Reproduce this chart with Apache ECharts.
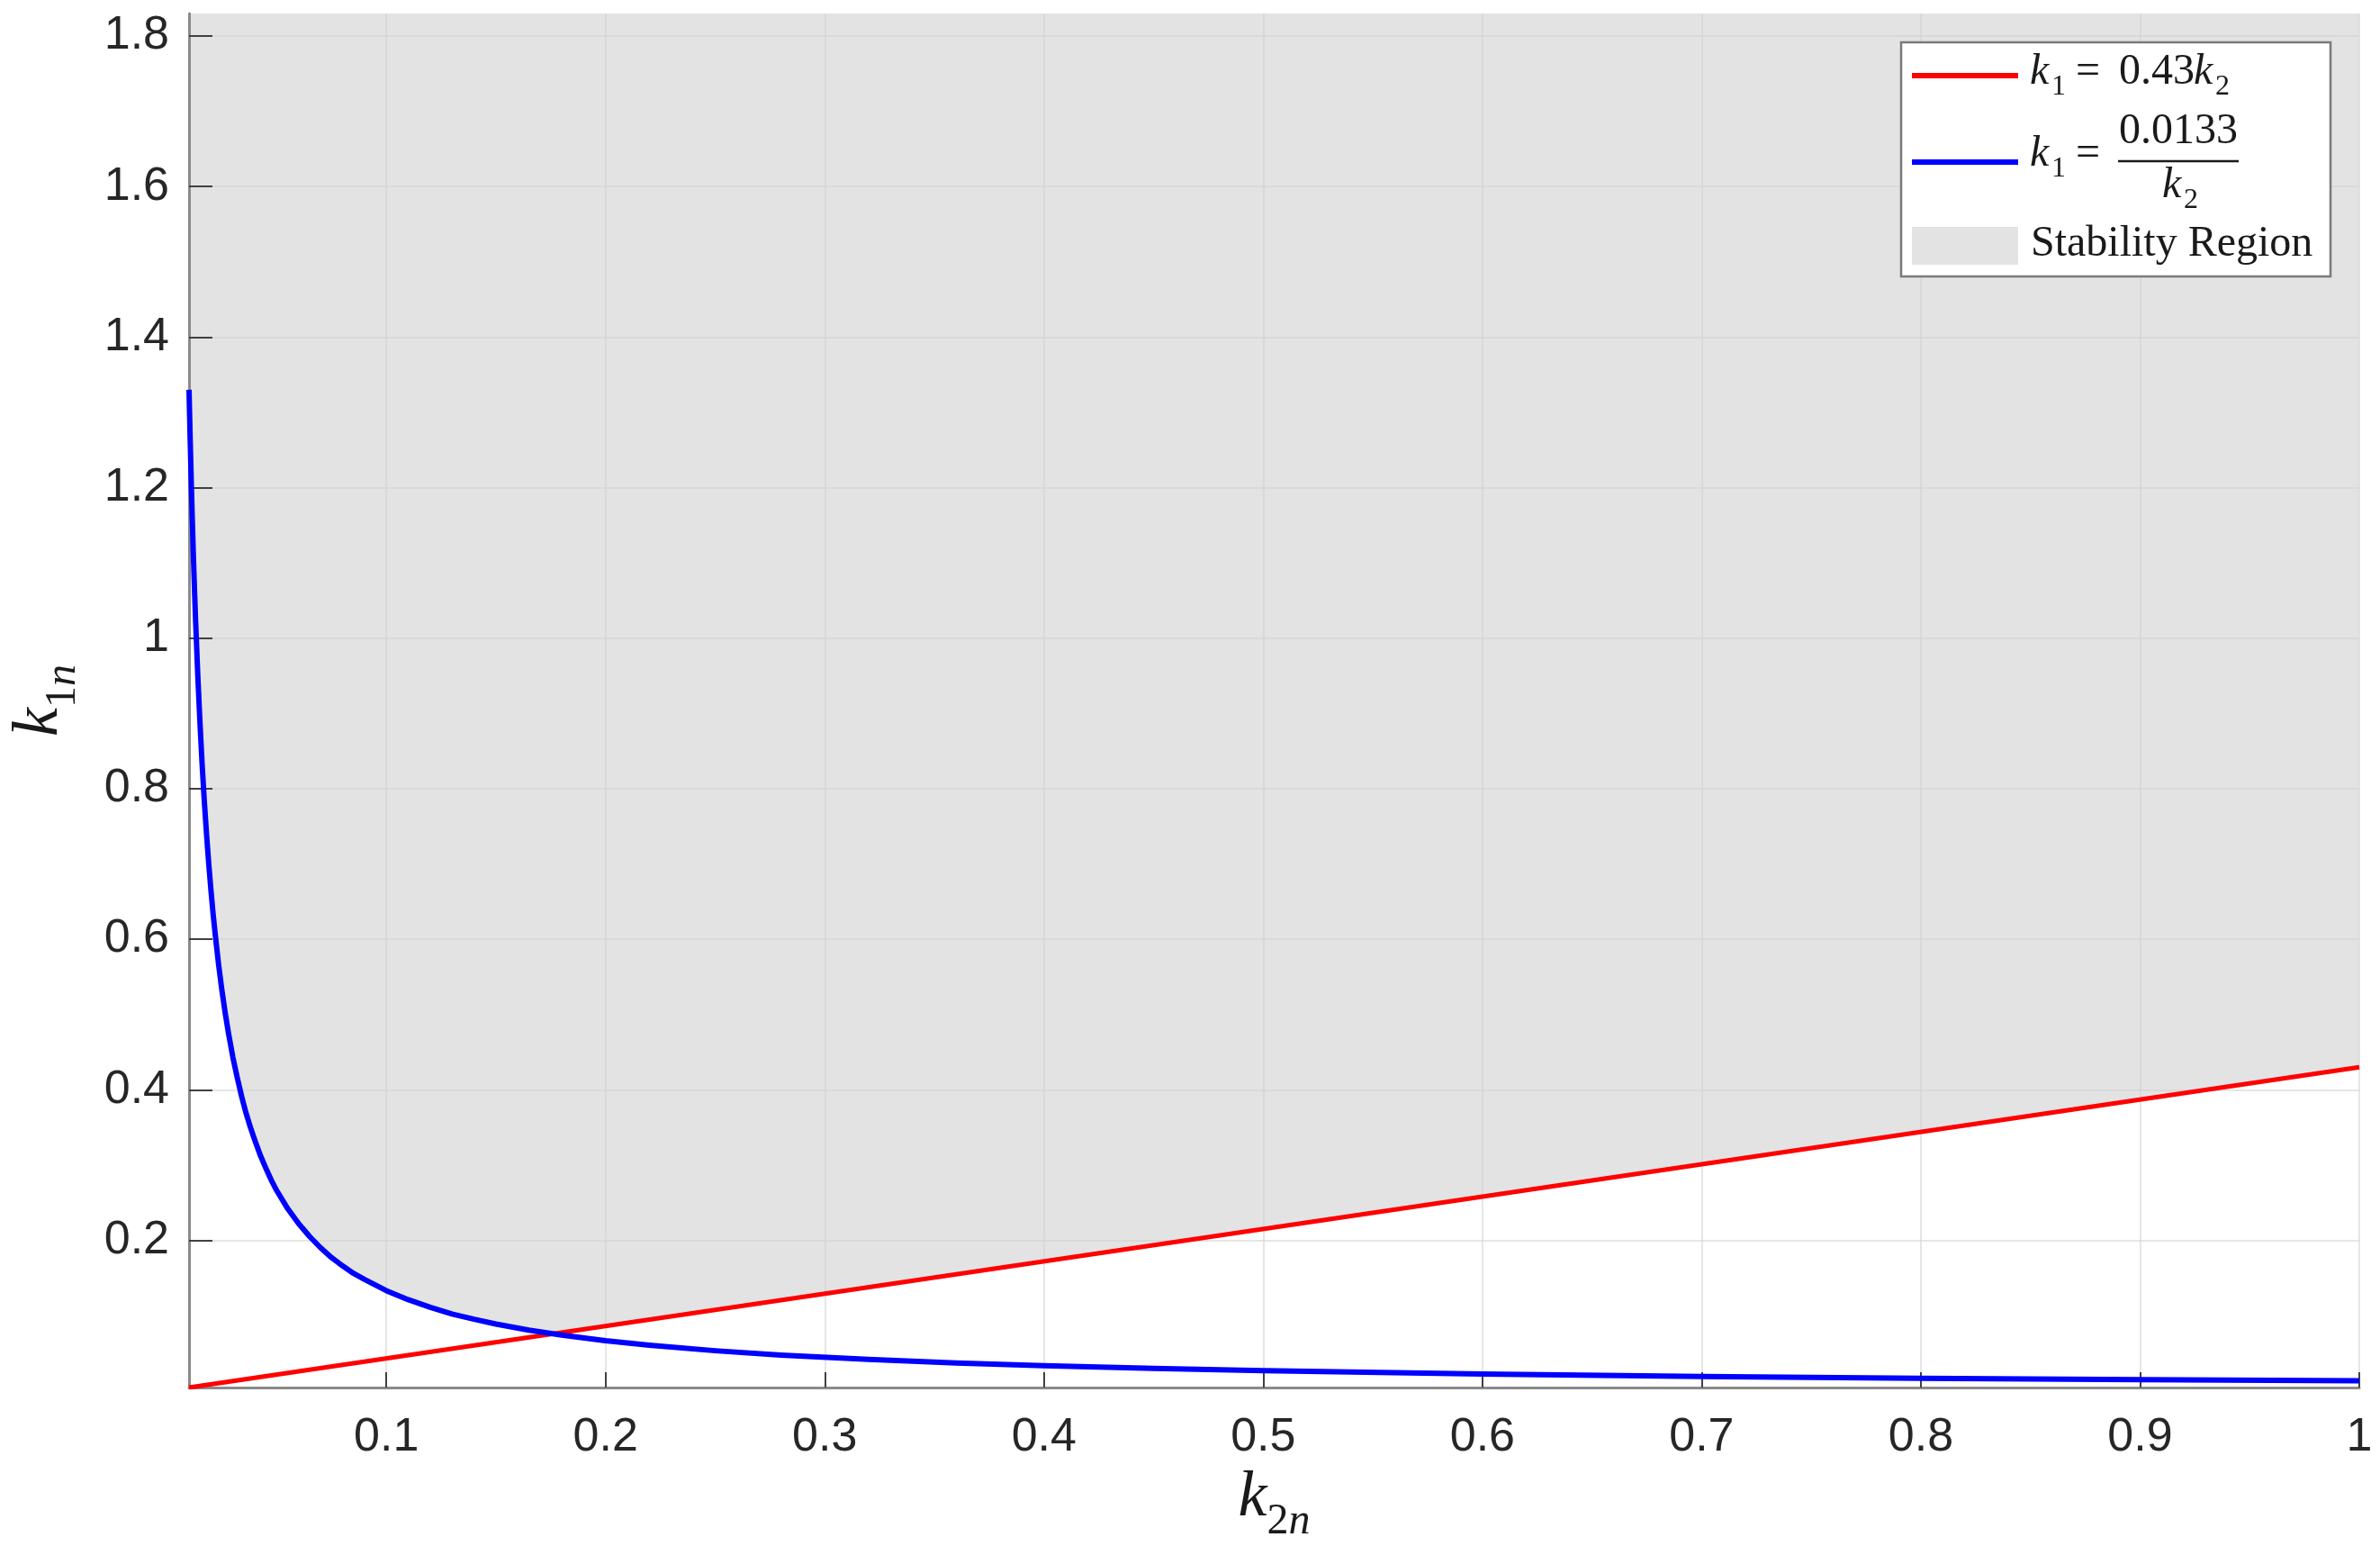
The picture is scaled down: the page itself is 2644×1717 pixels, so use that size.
<!DOCTYPE html>
<html>
<head>
<meta charset="utf-8">
<script src="https://cdn.jsdelivr.net/npm/echarts@6/dist/echarts.min.js"></script>
<style>
  html, body { margin: 0; padding: 0; background: #fff; }
  #chart { width: 2644px; height: 1717px; }
</style>
</head>
<body>
<div id="chart"></div>
<script>
// k1 = 0.43 k2 (red boundary)
var k2Red = [0.01, 1.0];
var k1Red = [0.0043, 0.43];

// k1 = 0.0133 / k2 (blue boundary)
var k2Blue = [0.01, 0.0105, 0.011, 0.0115, 0.012, 0.0125, 0.013, 0.014, 0.015, 0.016,
  0.017, 0.018, 0.019, 0.02, 0.021, 0.022, 0.0235, 0.025, 0.0265, 0.028, 0.03, 0.032,
  0.034, 0.036, 0.038, 0.04, 0.0425, 0.045, 0.0475, 0.05, 0.055, 0.06, 0.065, 0.07,
  0.075, 0.08, 0.085, 0.09, 0.1, 0.11, 0.12, 0.13, 0.14, 0.15, 0.165, 0.18, 0.2,
  0.22, 0.25, 0.28, 0.32, 0.36, 0.4, 0.45, 0.5, 0.6, 0.7, 0.8, 0.9, 1.0];
var k1Blue = [1.33, 1.267, 1.209, 1.157, 1.108, 1.064, 1.023, 0.95, 0.887, 0.831,
  0.782, 0.739, 0.7, 0.665, 0.633, 0.605, 0.566, 0.532, 0.502, 0.475, 0.443, 0.416,
  0.391, 0.369, 0.35, 0.333, 0.313, 0.296, 0.28, 0.266, 0.242, 0.222, 0.205, 0.19,
  0.177, 0.166, 0.156, 0.148, 0.133, 0.121, 0.111, 0.102, 0.095, 0.0887, 0.0806, 0.0739, 0.0665,
  0.0605, 0.0532, 0.0475, 0.0416, 0.0369, 0.0333, 0.0296, 0.0266, 0.0222, 0.019, 0.0166, 0.0148, 0.0133];

var xTicks = [0.1, 0.2, 0.3, 0.4, 0.5, 0.6, 0.7, 0.8, 0.9, 1];
var yTicks = [0.2, 0.4, 0.6, 0.8, 1, 1.2, 1.4, 1.6, 1.8];

function pairs(xs, ys) {
  return xs.map(function (x, i) { return [x, ys[i]]; });
}
var redData = pairs(k2Red, k1Red);
var blueData = pairs(k2Blue, k1Blue);

var serif = '"Liberation Serif", "Times New Roman", serif';
var sans = '"Liberation Sans", Arial, Helvetica, sans-serif';

// axis names: italic k with a lowered subscript
var nameRich = {
  k: { fontFamily: serif, fontStyle: 'italic', fontSize: 72, padding: [0, 0, 14, 0], verticalAlign: 'bottom', color: '#1a1a1a' },
  d: { fontFamily: serif, fontSize: 48, verticalAlign: 'bottom', color: '#1a1a1a' },
  n: { fontFamily: serif, fontStyle: 'italic', fontSize: 48, verticalAlign: 'bottom', color: '#1a1a1a' }
};

// legend pieces (placed by hand, baseline ~ middle + 0.34em)
function legText(str, x, base, size, italic, align) {
  return {
    type: 'text', x: x, y: base - 0.34 * size, z: 11,
    style: {
      text: str, fill: '#1a1a1a', align: align || 'left', verticalAlign: 'middle',
      font: (italic ? 'italic ' : '') + size + 'px ' + serif
    }
  };
}

var chart = echarts.init(document.getElementById('chart'));
var option = {
  animation: false,
  backgroundColor: '#ffffff',
  grid: {
    left: 210, right: 23, top: 15, bottom: 176,
    outerBoundsMode: 'none', containLabel: false,
    show: true, backgroundColor: '#e3e3e3', borderWidth: 0
  },
  xAxis: {
    type: 'value', min: 0.01, max: 1, z: 2,
    name: '{k|k}{d|2}{n|n}', nameLocation: 'middle', nameGap: 86,
    nameTextStyle: { rich: nameRich },
    axisLine: { onZero: false, lineStyle: { color: '#8a8a8a', width: 3 } },
    axisTick: { inside: true, length: 17, customValues: xTicks, lineStyle: { color: '#404040', width: 2 } },
    axisLabel: { customValues: xTicks, margin: 30, fontFamily: sans, fontSize: 52, color: '#262626' },
    splitLine: { show: true, lineStyle: { color: 'rgba(208,208,208,0.54)', width: 2 } }
  },
  yAxis: {
    type: 'value', min: 0.0043, max: 1.83, z: 2,
    name: '{k|k}{d|1}{n|n}', nameLocation: 'middle', nameGap: 116, nameRotate: 90,
    nameTextStyle: { rich: nameRich },
    axisLine: { onZero: false, lineStyle: { color: '#8a8a8a', width: 3 } },
    axisTick: { inside: true, length: 26, customValues: yTicks, lineStyle: { color: '#404040', width: 2 } },
    axisLabel: { customValues: yTicks, margin: 22, fontFamily: sans, fontSize: 52, color: '#262626' },
    splitLine: { show: true, lineStyle: { color: 'rgba(208,208,208,0.54)', width: 2 } }
  },
  series: [
    // white (unstable) areas under each boundary; what stays grey is the stability region
    {
      type: 'line', data: blueData, symbol: 'none', z: 1,
      lineStyle: { width: 0 }, areaStyle: { color: '#ffffff', opacity: 1, origin: 'start' }
    },
    {
      type: 'line', data: redData, symbol: 'none', z: 1,
      lineStyle: { width: 0 }, areaStyle: { color: '#ffffff', opacity: 1, origin: 'start' }
    },
    {
      name: 'k1 = 0.43k2', type: 'line', data: redData, symbol: 'none', z: 3,
      lineStyle: { color: '#ff0000', width: 5 }
    },
    {
      name: 'k1 = 0.0133/k2', type: 'line', data: blueData, symbol: 'none', z: 3,
      lineStyle: { color: '#0000ff', width: 6, join: 'round' }
    }
  ],
  graphic: [
    { type: 'rect', shape: { x: 2112, y: 47, width: 477, height: 260 }, style: { fill: '#ffffff', stroke: '#7a7a7a', lineWidth: 2.5 }, z: 10 },
    { type: 'line', shape: { x1: 2124, y1: 84, x2: 2242, y2: 84 }, style: { stroke: '#ff0000', lineWidth: 6 }, z: 11 },
    { type: 'line', shape: { x1: 2124, y1: 180, x2: 2242, y2: 180 }, style: { stroke: '#0000ff', lineWidth: 6 }, z: 11 },
    { type: 'rect', shape: { x: 2124, y: 252, width: 118, height: 42 }, style: { fill: '#e3e3e3' }, z: 11 },
    // k1 = 0.43 k2
    legText('k', 2255, 97, 48, true),
    legText('1', 2279, 107, 32),
    legText('=', 2306, 97, 48),
    legText('0.43', 2354, 97, 48),
    legText('k', 2437, 97, 48, true),
    legText('2', 2461, 107, 32),
    // k1 = 0.0133 / k2
    legText('k', 2255, 188, 48, true),
    legText('1', 2279, 198, 32),
    legText('=', 2306, 188, 48),
    legText('0.0133', 2420, 163, 48, false, 'center'),
    { type: 'line', shape: { x1: 2353, y1: 179, x2: 2487, y2: 179 }, style: { stroke: '#1a1a1a', lineWidth: 2.5 }, z: 11 },
    legText('k', 2402, 223, 48, true),
    legText('2', 2426, 233, 32),
    // patch label
    legText('Stability Region', 2256, 288, 48)
  ]
};
chart.setOption(option);
</script>
</body>
</html>
